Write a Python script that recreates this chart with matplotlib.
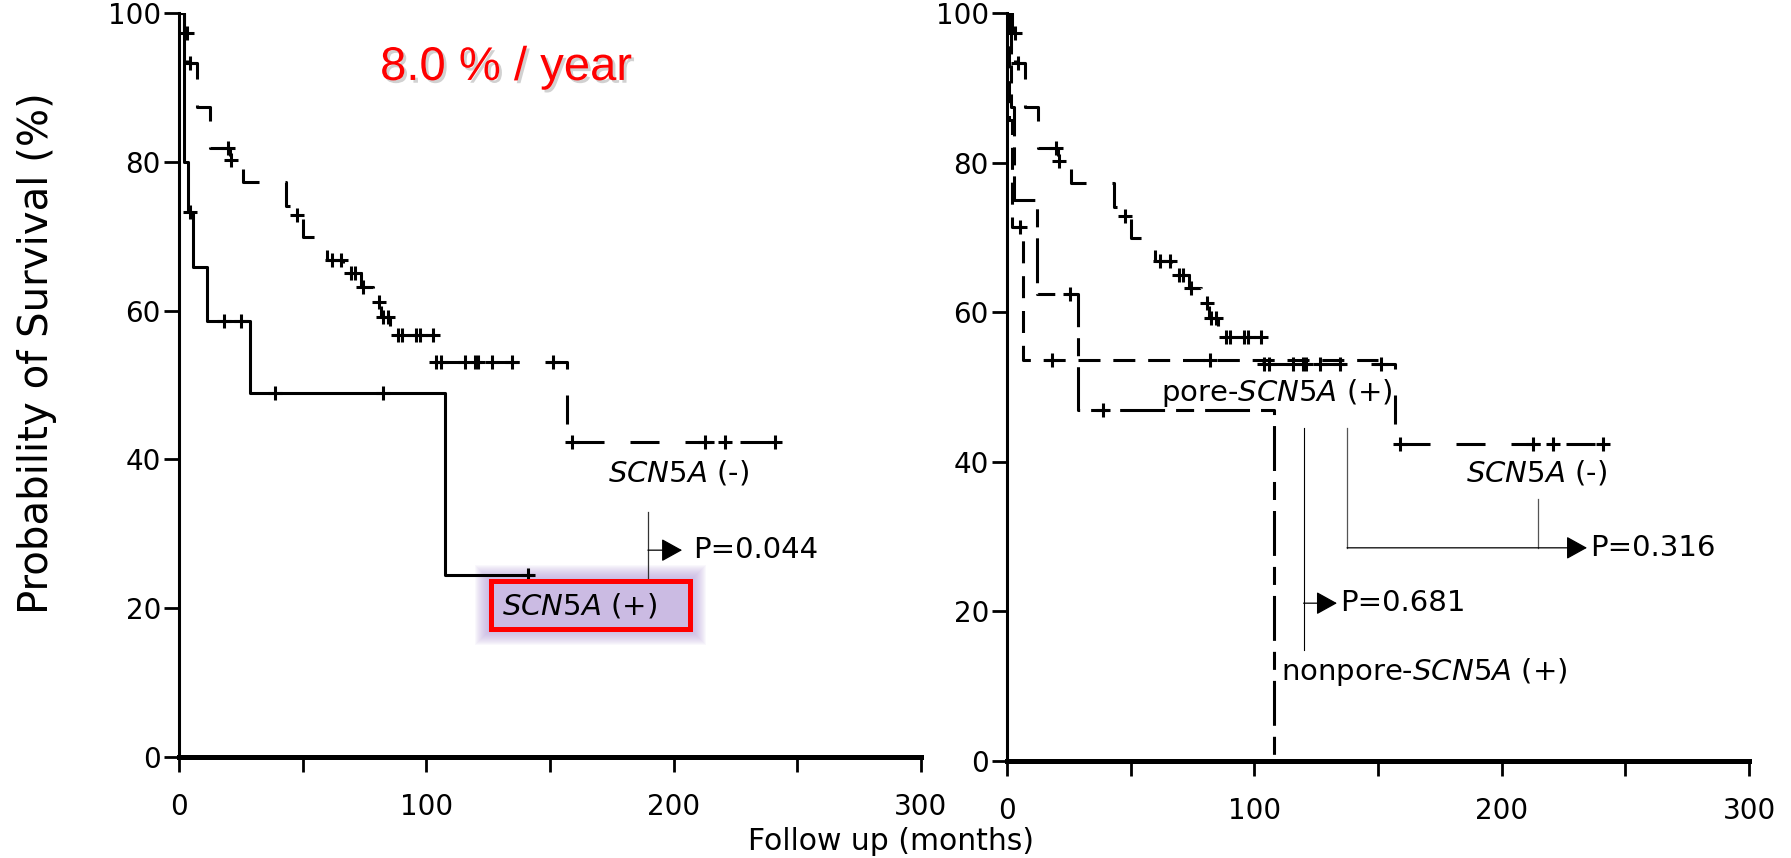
import numpy as np
import matplotlib
matplotlib.use("Agg")
import matplotlib.pyplot as plt
import matplotlib.patheffects as pe
from matplotlib.patches import Rectangle

plt.rcParams['font.family'] = ['DejaVu Sans']
plt.rcParams['mathtext.fontset'] = 'dejavusans'

# SCN5A (-) group (same curve in both panels)
neg_t = [0, 2.0, 3.4, 7.1, 12.5, 20.5, 26.0, 43.3, 46.2, 50.0, 59.7, 66.3, 73.7,
         78.6, 81.6, 85.5, 103.6, 156.7, 243.7]
neg_s = [100, 97.3, 93.3, 87.4, 81.9, 80.2, 77.3, 74.0, 72.8, 69.9, 66.8, 65.0, 63.2,
         61.2, 59.2, 56.7, 53.1, 42.4, 42.4]
neg_cens = [3.1, 4.3, 20.0, 21.0, 47.6, 61.7, 65.7, 69.7, 71.0, 74.5, 80.8, 82.3, 84.7,
            88.6, 90.0, 96.0, 97.5, 102.5, 104.0, 106.0, 115.6, 119.7, 121.0, 126.4,
            134.5, 151.2, 158.7, 212.7, 220.8, 241.0]

# SCN5A (+) group, left panel
pos_t = [0, 2.0, 3.6, 5.8, 11.2, 28.7, 107.5, 143.2]
pos_s = [100, 80.0, 73.3, 65.9, 58.6, 48.9, 24.5, 24.5]
pos_cens = [4.5, 18.2, 24.9, 38.8, 82.5, 141.2]

# pore / nonpore SCN5A (+), right panel
pore_t = [0, 1.0, 2.0, 6.6, 150.0]
pore_s = [100, 85.7, 71.4, 53.6, 53.6]
pore_cens = [5.3, 18.1, 82.1]

nonpore_t = [0, 1.5, 3.0, 12.0, 28.8, 107.8]
nonpore_s = [100, 87.5, 75.0, 62.5, 46.9, 0.0]
nonpore_cens = [25.5, 39.0]

x_ticks = [0, 50, 100, 150, 200, 250, 300]
x_labels = ['0', '', '100', '', '200', '', '300']
y_ticks = [0, 20, 40, 60, 80, 100]

LW = 2.2
FS = 20      # tick labels
AFS = 21     # annotations


def km(ax, t, s, cens, ls):
    ax.step(t, s, where='post', color='black', lw=LW, linestyle=ls,
            solid_capstyle='butt', dash_capstyle='butt')
    t = np.asarray(t)
    s = np.asarray(s)
    idx = np.searchsorted(t, cens, side='right') - 1
    ax.plot(cens, s[idx], linestyle='none', marker='+', ms=10, mew=2.2,
            color='black')


def style(ax):
    ax.set_xlim(0, 300)
    ax.set_ylim(0, 100)
    for sp in ['top', 'right']:
        ax.spines[sp].set_visible(False)
    ax.spines['left'].set_linewidth(2.2)
    ax.spines['bottom'].set_linewidth(3.6)
    ax.set_xticks(x_ticks)
    ax.set_xticklabels(x_labels)
    ax.set_yticks(y_ticks)
    ax.tick_params(axis='x', direction='out', length=11, width=2, pad=15,
                   labelsize=FS)
    ax.tick_params(axis='y', direction='out', length=11, width=2, pad=2,
                   labelsize=FS)


def bracket_arrow(ax, x0, x1, y, color='black'):
    ax.annotate('', xy=(x1, y), xytext=(x0, y),
                arrowprops=dict(arrowstyle='-|>,head_length=0.65,head_width=0.36',
                                mutation_scale=20, lw=0.9, color=color,
                                shrinkA=0, shrinkB=0))


fig = plt.figure(figsize=(17.91, 8.58), dpi=100)
ax1 = fig.add_axes([0.09994, 0.11772, 0.41429, 0.86713])
ax2 = fig.add_axes([0.56226, 0.11305, 0.41429, 0.87179])

# ---- left panel
km(ax1, neg_t, neg_s, neg_cens, (0, (9.5, 8.5)))
km(ax1, pos_t, pos_s, pos_cens, '-')
style(ax1)

ax1.text(81.3, 91.0, '8.0 % / year', color='red', fontsize=34,
         family='Liberation Sans', ha='left', va='baseline',
         path_effects=[pe.SimplePatchShadow(offset=(2, -2), shadow_rgbFace='#999999',
                                            alpha=0.45), pe.Normal()])

ax1.text(173.4, 38.2, r'$\mathit{SCN5A}$ (-)', fontsize=AFS, ha='left', va='center')

# P=0.044 bracket
ax1.plot([189.6, 189.6], [32.9, 24.1], color='#333333', lw=0.9)
bracket_arrow(ax1, 189.6, 203.4, 27.8)
ax1.text(207.8, 27.8, 'P=0.044', fontsize=AFS, ha='left', va='center')

# highlighted box with glow
bx0, bx1, by0, by1 = 126.2, 206.7, 17.2, 23.66
dx, dy = 300 / 742, 100 / 744
for k in range(16, 0, -1):
    ax1.add_patch(Rectangle((bx0 - k * dx, by0 - k * dy),
                            (bx1 - bx0) + 2 * k * dx, (by1 - by0) + 2 * k * dy,
                            facecolor='#b8a2dc', edgecolor='none', alpha=0.07,
                            zorder=1, clip_on=False))
ax1.add_patch(Rectangle((bx0, by0), bx1 - bx0, by1 - by0, facecolor='#cbbbe3',
                        edgecolor='#ff0000', lw=3.6, zorder=2, clip_on=False))
ax1.text(130.6, 20.3, r'$\mathit{SCN5A}$ (+)', fontsize=AFS, ha='left',
         va='center', zorder=3)

# ---- right panel
km(ax2, neg_t, neg_s, neg_cens, (0, (9.5, 8.5)))
km(ax2, pore_t, pore_s, pore_cens, (0, (7.2, 4.2)))
km(ax2, nonpore_t, nonpore_s, nonpore_cens, (0, (14.7, 3.6, 5.9, 3.6)))
style(ax2)

ax2.text(62.3, 49.2, r'pore-$\mathit{SCN5A}$ (+)', fontsize=AFS, ha='left', va='center')
ax2.text(185.6, 38.5, r'$\mathit{SCN5A}$ (-)', fontsize=AFS, ha='left', va='center')
ax2.text(110.8, 11.9, r'nonpore-$\mathit{SCN5A}$ (+)', fontsize=AFS, ha='left',
         va='center')

# P=0.681 bracket
ax2.plot([119.9, 119.9], [44.5, 14.8], color='black', lw=0.8)
bracket_arrow(ax2, 119.9, 133.4, 21.1)
ax2.text(134.6, 21.1, 'P=0.681', fontsize=AFS, ha='left', va='center')

# P=0.316 bracket
ax2.plot([137.5, 137.5], [44.5, 28.5], color='#555555', lw=0.9)
ax2.plot([214.7, 214.7], [35.0, 28.5], color='#555555', lw=0.9)
bracket_arrow(ax2, 137.5, 234.5, 28.5, color='black')
ax2.text(235.7, 28.5, 'P=0.316', fontsize=AFS, ha='left', va='center')

fig.text(0.4975, 0.0187, 'Follow up (months)', fontsize=21.5, ha='center', va='center')
fig.text(0.0207, 0.588, 'Probability of Survival (%)', fontsize=29, rotation=90,
         ha='center', va='center')

fig.savefig('out.png', dpi=100)
